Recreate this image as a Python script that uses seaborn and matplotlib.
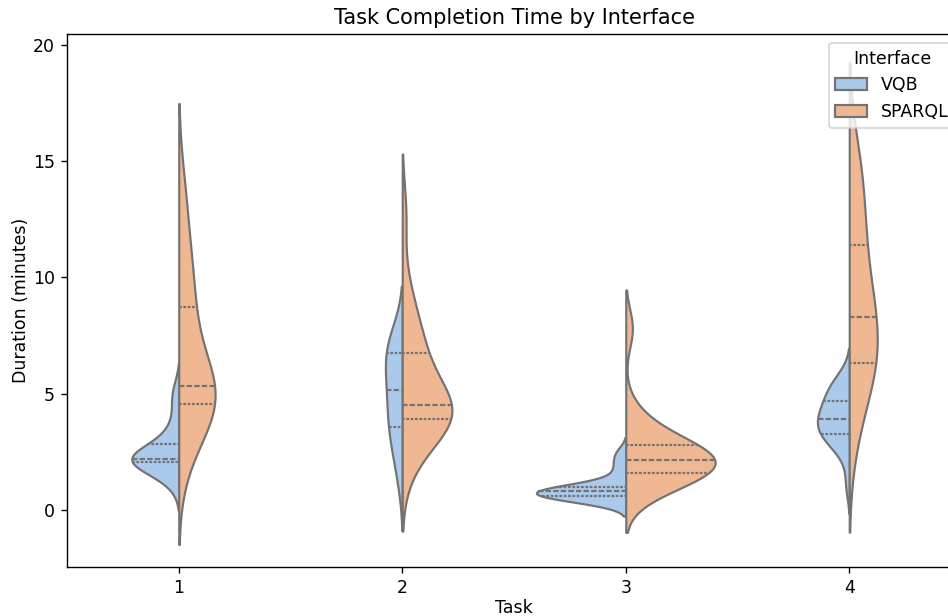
import matplotlib
matplotlib.use("Agg")
import matplotlib.pyplot as plt
import seaborn as sns
import pandas as pd

tasks = ["1", "2", "3", "4"]
interfaces = ["VQB", "SPARQL"]

vqb_task1 = [1.1, 1.5, 1.7, 1.9, 2.0, 2.1, 2.1, 2.15, 2.2, 2.2,
             2.2, 2.25, 2.4, 2.6, 2.8, 2.9, 3.3, 3.8, 4.6, 5.2]
sparql_task1 = [1.9, 3.0, 3.6, 4.0, 4.3, 4.45, 4.6, 4.75, 4.85, 5.0, 5.15, 5.25,
                5.45, 5.9, 6.5, 7.1, 7.8, 8.6, 9.2, 9.8, 10.5, 11.5, 12.7, 14.1]
vqb_task2 = [1.45, 2.7, 3.3, 3.65, 4.3, 4.9, 5.4, 5.9,
             6.7, 6.9, 7.1, 7.3]
sparql_task2 = [1.7, 2.7, 3.2, 3.5, 3.7, 3.85, 3.95, 4.05, 4.15, 4.25, 4.35, 4.45,
                4.55, 4.8, 5.1, 5.5, 6.0, 6.7, 6.9, 7.3, 7.8, 8.6, 9.6, 12.7]
vqb_task3 = [0.35, 0.45, 0.5, 0.55, 0.6, 0.6, 0.65, 0.7, 0.75, 0.8,
             0.8, 0.85, 0.9, 0.95, 1.0, 1.0, 1.3, 1.7, 2.1, 2.5]
sparql_task3 = [0.7, 1.05, 1.3, 1.45, 1.6, 1.6, 1.75, 1.9, 2.0, 2.1,
                2.2, 2.25, 2.4, 2.6, 2.75, 2.85, 3.1, 3.5, 4.2, 7.8]
vqb_task4 = [1.1, 2.4, 2.8, 3.0, 3.2, 3.3, 3.4, 3.6, 3.7, 3.8,
             4.0, 4.1, 4.3, 4.5, 4.6, 4.9, 5.1, 5.3, 5.5, 5.7]
sparql_task4 = [2.9, 4.5, 5.3, 5.8, 6.1, 6.4, 6.8, 7.2, 7.7, 8.1,
                8.5, 9.0, 9.6, 10.3, 11.2, 12.0, 12.9, 13.8, 14.6, 15.4]

series = {
    ("1", "VQB"): vqb_task1, ("1", "SPARQL"): sparql_task1,
    ("2", "VQB"): vqb_task2, ("2", "SPARQL"): sparql_task2,
    ("3", "VQB"): vqb_task3, ("3", "SPARQL"): sparql_task3,
    ("4", "VQB"): vqb_task4, ("4", "SPARQL"): sparql_task4,
}
rows = []
for t in tasks:
    for itf in interfaces:
        for v in series[(t, itf)]:
            rows.append({"Task": t, "Interface": itf, "Duration": v})
df = pd.DataFrame(rows)

DPI = 125
fig = plt.figure(figsize=(948 / DPI, 616 / DPI), dpi=DPI)
ax = fig.add_axes([67 / 948, 1 - 567 / 616, 894 / 948, (567 - 34) / 616])
sns.violinplot(data=df, x="Task", y="Duration", hue="Interface", split=True,
               inner="quart", palette="pastel", order=tasks,
               hue_order=interfaces, ax=ax)
ax.set_ylim(-2.45, 20.47)
ax.set_title("Task Completion Time by Interface", fontsize=12)
ax.set_xlabel("Task", labelpad=1)
ax.set_ylabel("Duration (minutes)", labelpad=1.5)
ax.legend(title="Interface", loc="upper right", handlelength=1.8,
          bbox_to_anchor=(1 + 3 / 894, 1.0))
fig.savefig("out.png", dpi=DPI)
